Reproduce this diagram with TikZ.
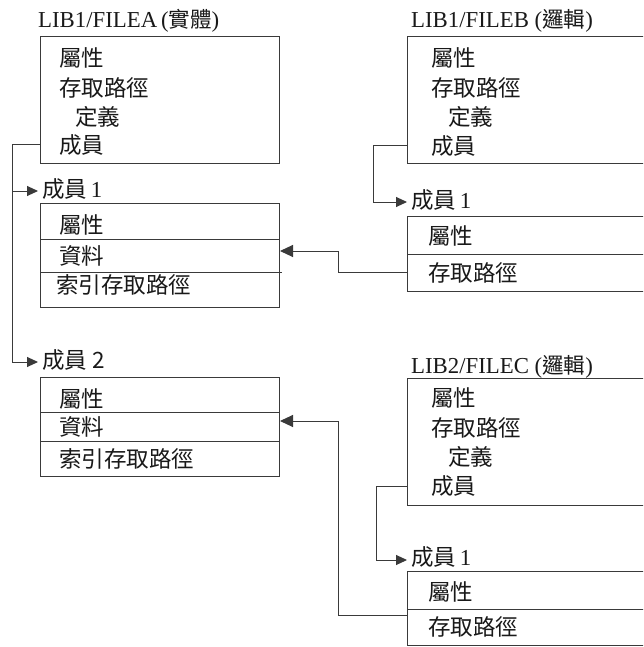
\documentclass[tikz,border=0pt]{standalone}
\usepackage{fontspec}
\setmainfont{Liberation Serif}
\newfontfamily\cjk{Noto Sans CJK TC}
\usetikzlibrary{arrows.meta}
\definecolor{linec}{HTML}{3A3A3A}
\begin{document}
\begin{tikzpicture}[x=1pt,y=-1pt,
  box/.style={draw=linec, line width=1pt, inner sep=0pt, anchor=north west},
  ln/.style={draw=linec, line width=1pt},
  arr/.style={ln, -{Triangle[length=11pt,width=10pt]}},
  arrb/.style={ln, -{Triangle[length=13pt,width=12pt]}},
  txt/.style={font=\cjk\fontsize{22.5}{22.5}\selectfont, text=black!90, anchor=west, inner sep=0pt},
  ttl/.style={font=\fontsize{22.8}{22.8}\selectfont, text=black!90, anchor=base west, inner sep=0pt},
  lbl/.style={font=\cjk\fontsize{22.5}{22.5}\selectfont, text=black!90, anchor=base west, inner xsep=4pt, inner ysep=0pt}]
\useasboundingbox (0,0) rectangle (643,647);
\clip (0,0) rectangle (643,647);
\fill[white] (0,0) rectangle (643,647);

% ---------- boxes ----------
\node[box, minimum width=239pt, minimum height=127pt] (A)  at (40,36)  {};
\node[box, minimum width=239pt, minimum height=104pt] (A1) at (40,203) {};
\node[box, minimum width=239pt, minimum height=99pt]  (A2) at (40,377) {};
\node[box, minimum width=260pt, minimum height=127pt] (B)  at (407,36) {};
\node[box, minimum width=260pt, minimum height=75pt]  (B1) at (407,216) {};
\node[box, minimum width=260pt, minimum height=127pt] (C)  at (407,378) {};
\node[box, minimum width=260pt, minimum height=74pt]  (C1) at (407,571) {};

% dividers
\draw[ln] (A1.west |- 0,239) -- (A1.east |- 0,239);
\draw[ln] (A1.west |- 0,272) -- ([xshift=2pt]A1.east |- 0,272);
\draw[ln] (A2.west |- 0,412) -- (A2.east |- 0,412);
\draw[ln] (A2.west |- 0,441) -- (A2.east |- 0,441);
\draw[ln] (B1.west |- 0,254) -- (B1.east |- 0,254);
\draw[ln] (C1.west |- 0,609) -- (C1.east |- 0,609);

% ---------- titles ----------
\node[ttl] (tA) at (38,28)  {LIB1/FILEA\,({\cjk\fontsize{21.5}{21.5}\selectfont 實體})};
\node[ttl] (tB) at (411,28) {LIB1/FILEB ({\cjk\fontsize{21.5}{21.5}\selectfont 邏輯})};
\node[ttl] (tC) at (411,373) {LIB2/FILEC ({\cjk\fontsize{21.5}{21.5}\selectfont 邏輯})};

% ---------- box texts ----------
\node[txt] (a1) at (59,58)  {屬性};
\node[txt] (a2) at (59,88)  {存取路徑};
\node[txt] (a3) at (75,117) {定義};
\node[txt] (a4) at (59,145) {成員};

\node[txt] (m11) at (59,225) {屬性};
\node[txt] (m12) at (59,256) {資料};
\node[txt] (m13) at (56,285) {索引存取路徑};

\node[txt] (m21) at (59,399) {屬性};
\node[txt] (m22) at (59,427) {資料};
\node[txt] (m23) at (59,459) {索引存取路徑};

\node[txt] (b1) at (431,58)  {屬性};
\node[txt] (b2) at (431,88)  {存取路徑};
\node[txt] (b3) at (448,117) {定義};
\node[txt] (b4) at (431,146) {成員};

\node[txt] (bm1) at (428,236) {屬性};
\node[txt] (bm2) at (428,273) {存取路徑};

\node[txt] (c1) at (431,398) {屬性};
\node[txt] (c2) at (431,428) {存取路徑};
\node[txt] (c3) at (448,457) {定義};
\node[txt] (c4) at (431,486) {成員};

\node[txt] (cm1) at (428,592) {屬性};
\node[txt] (cm2) at (428,627) {存取路徑};

% ---------- member labels ----------
\node[lbl] (LA1) at (38,197)  {成員\,{\rmfamily\fontsize{22.8}{22.8}\selectfont 1}};
\node[lbl] (LA2) at (38,368)  {成員 2};
\node[lbl] (LB1) at (407,208) {成員\,{\rmfamily\fontsize{22.8}{22.8}\selectfont 1}};
\node[lbl] (LC1) at (407,565) {成員\,{\rmfamily\fontsize{22.8}{22.8}\selectfont 1}};

% ---------- connectors ----------
\coordinate (trA) at (12,191);
\draw[ln] (A.west |- 0,145) -- (12,145) -- (trA);
\draw[arr] (trA) -- (12,362) -- (LA2.west |- 0,362);
\draw[arr] (trA) -- (LA1.west |- 0,191);

\draw[arr] (B.west |- 0,146) -- (373,146) -- (373,202) -- (LB1.west |- 0,202);
\draw[arr] (C.west |- 0,486) -- (376,486) -- (376,560) -- (LC1.west |- 0,560);

\draw[arrb] (B1.west |- 0,272) -- (338,272) -- (338,251) -- (A1.east |- 0,251);
\draw[arrb] (C1.west |- 0,615) -- (338,615) -- (338,421) -- (A2.east |- 0,421);
\end{tikzpicture}
\end{document}
